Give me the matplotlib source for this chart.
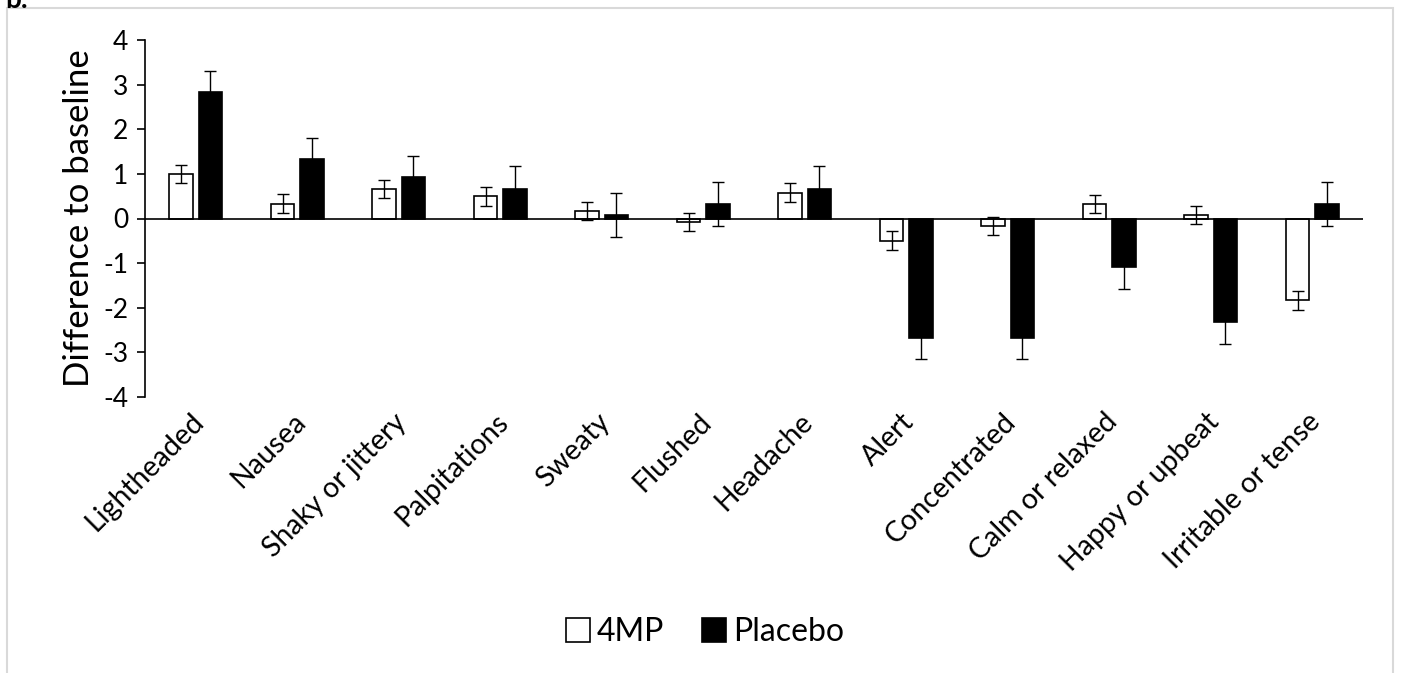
import matplotlib
matplotlib.use('Agg')
import matplotlib.pyplot as plt
import matplotlib.patches as mpatches
import numpy as np

plt.rcParams['font.family'] = ['Lato', 'DejaVu Sans']
plt.rcParams['axes.unicode_minus'] = False

symptoms = ['Lightheaded', 'Nausea', 'Shaky or jittery', 'Palpitations', 'Sweaty',
            'Flushed', 'Headache', 'Alert', 'Concentrated', 'Calm or relaxed',
            'Happy or upbeat', 'Irritable or tense']
mp4_mean = [1.0, 0.33, 0.67, 0.5, 0.17, -0.08, 0.58, -0.5, -0.17, 0.33, 0.08, -1.83]
mp4_err = [0.21, 0.21, 0.2, 0.21, 0.21, 0.21, 0.21, 0.21, 0.21, 0.2, 0.21, 0.21]
placebo_mean = [2.83, 1.33, 0.92, 0.67, 0.08, 0.33, 0.67, -2.67, -2.67, -1.08, -2.33, 0.33]
placebo_err = [0.48, 0.48, 0.48, 0.5, 0.49, 0.49, 0.5, 0.48, 0.48, 0.49, 0.48, 0.49]

fig = plt.figure(figsize=(14.06, 6.73), dpi=100)
ax = fig.add_axes([145 / 1406, 1 - 397 / 673, 1218 / 1406, 357 / 673])

x = np.arange(len(symptoms))
w = 0.23
off = 0.145

ax.bar(x - off, mp4_mean, w, color='white', edgecolor='black', linewidth=1.2, label='4MP', zorder=2)
ax.bar(x + off, placebo_mean, w, color='black', edgecolor='black', linewidth=1.2, label='Placebo', zorder=2)
ax.errorbar(x - off, mp4_mean, yerr=mp4_err, fmt='none', ecolor='black', elinewidth=1.0, capsize=4.5, capthick=1.0, zorder=3)
ax.errorbar(x + off, placebo_mean, yerr=placebo_err, fmt='none', ecolor='black', elinewidth=1.0, capsize=4.5, capthick=1.0, zorder=3)

ax.axhline(0, color='black', linewidth=1.2, zorder=4)

ax.set_xlim(-0.5, len(symptoms) - 0.5)
ax.set_ylim(-4, 4)
ax.set_yticks(range(-4, 5))
ax.spines['top'].set_visible(False)
ax.spines['right'].set_visible(False)
ax.spines['bottom'].set_visible(False)
ax.spines['left'].set_linewidth(1.2)
ax.tick_params(axis='y', direction='out', length=6, width=1.2, labelsize=19, pad=6)
ax.tick_params(axis='x', length=0, pad=15)
ax.set_xticks(x + 0.04)
ax.set_xticklabels(symptoms, rotation=45, ha='right', va='center', rotation_mode='anchor', fontsize=20.5)
ax.set_ylabel('Difference to baseline', fontsize=25, labelpad=6)

fig.legend(loc='center', bbox_to_anchor=(705 / 1406, 1 - 632 / 673), ncol=2, frameon=False,
           fontsize=23, handlelength=0.75, handleheight=0.75, handletextpad=0.2, columnspacing=1.2)

border = mpatches.Rectangle((7 / 1406, -0.05), 1386 / 1406, 1.05 - 8 / 673, transform=fig.transFigure,
                            fill=False, edgecolor='#d9d9d9', linewidth=1.5, clip_on=False)
fig.patches.append(border)
fig.text(0.004, 1.0, 'b.', fontsize=20, fontweight='bold', va='center', ha='left')

fig.savefig('out.png', dpi=100)
